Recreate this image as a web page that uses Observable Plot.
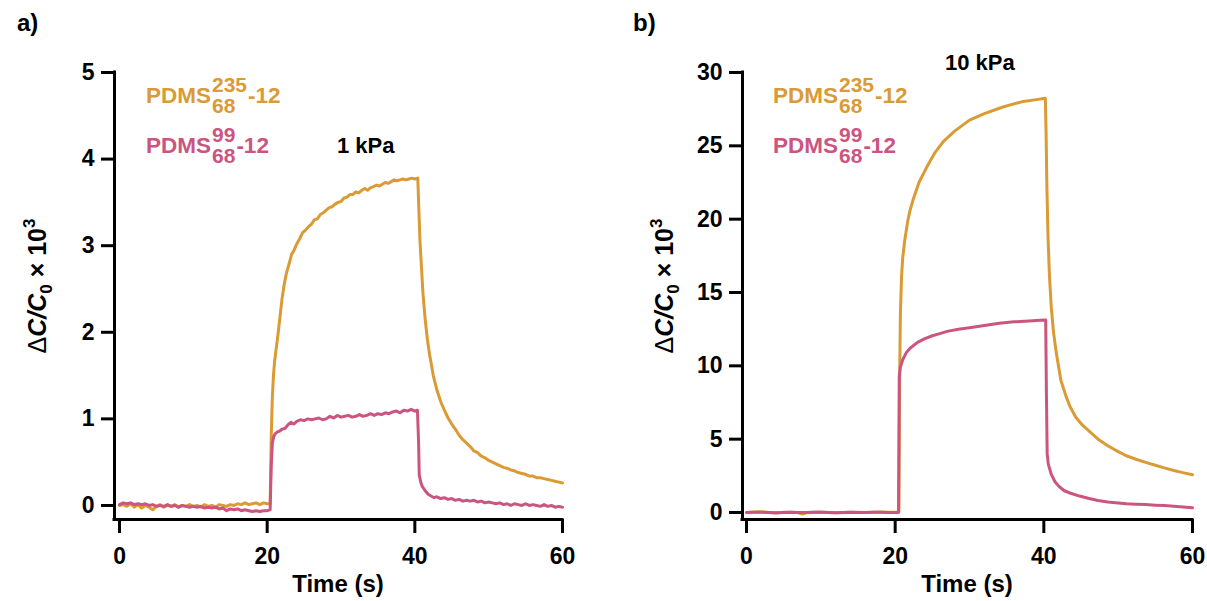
<!DOCTYPE html>
<html><head><meta charset="utf-8">
<script src="https://cdn.jsdelivr.net/npm/d3@7"></script>
<script src="https://cdn.jsdelivr.net/npm/@observablehq/plot@0.6"></script>
<style>
body{margin:0;background:#fff;}
#wrap{position:relative;width:1207px;height:601px;overflow:hidden;background:#fff;}
#wrap svg{position:absolute;top:0;}
</style></head><body><div id="wrap"></div>
<script>
const ORANGE = "#DA9A34", PINK = "#CC5580";
const FONT = "'Liberation Sans', Arial, sans-serif";

const xTicks = [0, 20, 40, 60];
const yTicks1kPa = [0, 1, 2, 3, 4, 5];
const yTicks10kPa = [0, 5, 10, 15, 20, 25, 30];
const seriesNames = [["235", "68"], ["99", "68"]];
const panelTags = ["a)", "b)"];
const pressureLabels = ["1 kPa", "10 kPa"];

// [time (s), ΔC/C0 ×10^3]
const orange1kPa = [[0,0.00],[0.5,0.01],[1,-0.01],[1.5,0.02],[2,-0.02],[2.5,0.01],[3,-0.03],[3.5,0.00],[4,-0.02],[4.5,-0.05],[5,-0.01],[5.5,0.01],[6,-0.02],[6.5,0.00],[7,-0.01],[7.5,0.01],[8,-0.02],[8.5,0.00],[9,-0.01],[9.5,0.01],[10,-0.01],[10.5,0.00],[11,-0.02],[11.5,0.01],[12,-0.01],[12.5,0.00],[13,-0.02],[13.5,0.01],[14,0.00],[14.5,-0.01],[15,0.01],[15.5,0.00],[16,0.02],[16.5,0.01],[17,0.03],[17.5,0.01],[18,0.02],[18.5,0.03],[19,0.01],[19.5,0.03],[20,0.02],[20.4,0.02],
[20.55,0.8],[20.7,1.25],[20.85,1.5],[21.0,1.66],[21.2,1.8],[21.4,1.93],[21.7,2.15],[22.0,2.38],[22.3,2.55],[22.6,2.68],[23.0,2.8],[23.3,2.9],[23.6,2.94],[24.0,3.02],[24.4,3.08],[24.8,3.15],[25.2,3.18],[25.6,3.22],[26.0,3.25],[26.4,3.30],[26.8,3.31],[27.2,3.36],[27.6,3.38],[28.0,3.41],[28.4,3.44],[28.8,3.45],[29.2,3.48],[29.6,3.50],[30.0,3.51],[30.4,3.55],[30.8,3.56],[31.2,3.59],[31.6,3.59],[32.0,3.62],[32.4,3.61],[32.8,3.64],[33.2,3.66],[33.6,3.64],[34.0,3.67],[34.4,3.68],[34.8,3.70],[35.2,3.69],[35.6,3.71],[36.0,3.73],[36.4,3.72],[36.8,3.74],[37.2,3.76],[37.6,3.75],[38.0,3.76],[38.4,3.77],[38.8,3.76],[39.2,3.77],[39.6,3.78],[40.0,3.77],[40.4,3.78],
[40.55,3.4],[40.7,3.05],[40.9,2.75],[41.1,2.45],[41.4,2.15],[41.7,1.92],[42.0,1.74],[42.5,1.50],[43.0,1.33],[43.5,1.20],[44.0,1.10],[44.5,1.01],[45.0,0.94],[45.5,0.88],[46.0,0.81],[46.5,0.76],[47.0,0.72],[47.5,0.68],[48.0,0.63],[48.5,0.61],[49.0,0.57],[49.5,0.55],[50.0,0.52],[50.5,0.50],[51.0,0.48],[51.5,0.46],[52.0,0.44],[52.5,0.43],[53.0,0.41],[53.5,0.40],[54.0,0.38],[54.5,0.37],[55.0,0.36],[55.5,0.34],[56.0,0.34],[56.5,0.32],[57.0,0.32],[57.5,0.31],[58.0,0.30],[58.5,0.29],[59.0,0.28],[59.5,0.27],[60.0,0.26]];

const pink1kPa = [[0,0.01],[0.5,0.03],[1,0.02],[1.5,0.03],[2,0.01],[2.5,0.02],[3,0.01],[3.5,0.02],[4,0.00],[4.5,0.01],[5,-0.01],[5.5,0.00],[6,-0.01],[6.5,0.01],[7,-0.01],[7.5,0.00],[8,-0.02],[8.5,0.00],[9,-0.01],[9.5,-0.02],[10,-0.01],[10.5,-0.02],[11,-0.01],[11.5,-0.03],[12,-0.02],[12.5,-0.03],[13,-0.02],[13.5,-0.04],[14,-0.03],[14.5,-0.06],[15,-0.04],[15.5,-0.05],[16,-0.04],[16.5,-0.06],[17,-0.05],[17.5,-0.06],[18,-0.07],[18.5,-0.06],[19,-0.07],[19.5,-0.06],[20,-0.06],[20.4,-0.05],
[20.55,0.45],[20.7,0.72],[20.9,0.80],[21.1,0.83],[21.4,0.85],[21.7,0.86],[22.0,0.88],[22.4,0.89],[22.8,0.93],[23.2,0.96],[23.6,0.94],[24.0,0.97],[24.5,0.99],[25.0,0.98],[25.5,1.00],[26.0,0.99],[26.5,1.00],[27.0,1.01],[27.5,0.99],[28.0,1.00],[28.5,1.03],[29.0,1.01],[29.5,1.04],[30.0,1.02],[30.5,1.03],[31.0,1.04],[31.5,1.02],[32.0,1.03],[32.5,1.05],[33.0,1.03],[33.5,1.04],[34.0,1.06],[34.5,1.04],[35.0,1.06],[35.5,1.05],[36.0,1.07],[36.5,1.06],[37.0,1.08],[37.5,1.09],[38.0,1.07],[38.5,1.10],[39.0,1.09],[39.5,1.11],[40.0,1.09],[40.35,1.10],
[40.5,0.75],[40.6,0.35],[40.8,0.27],[41.0,0.22],[41.4,0.17],[41.8,0.13],[42.2,0.11],[42.6,0.09],[43.0,0.10],[43.5,0.08],[44.0,0.09],[44.5,0.07],[45.0,0.08],[45.5,0.06],[46.0,0.07],[46.5,0.05],[47.0,0.06],[47.5,0.05],[48.0,0.06],[48.5,0.04],[49.0,0.05],[49.5,0.03],[50.0,0.04],[50.5,0.03],[51.0,0.02],[51.5,0.03],[52.0,0.01],[52.5,0.02],[53.0,0.00],[53.5,0.02],[54.0,0.01],[54.5,0.00],[55.0,0.02],[55.5,0.00],[56.0,0.01],[56.5,0.00],[57.0,-0.01],[57.5,0.01],[58.0,-0.01],[58.5,0.00],[59.0,-0.02],[59.5,-0.01],[60.0,-0.02]];

const orange10kPa = [[0,0.0],[1,0.03],[2,0.05],[3,0.0],[4,-0.03],[5,0.01],[6,0.02],[7,-0.02],[7.5,-0.1],[8,-0.02],[9,0.01],[10,0.03],[11,0.0],[12,-0.02],[13,0.0],[14,0.02],[15,0.01],[16,0.0],[17,0.02],[18,0.03],[19,0.01],[20,0.02],[20.5,0.03],
[20.6,9.0],[20.7,13.5],[20.85,16.0],[21.0,17.3],[21.3,18.6],[21.7,19.9],[22.0,20.6],[22.4,21.3],[23.2,22.5],[24.2,23.5],[25.3,24.5],[26.5,25.3],[28.0,26.0],[30.0,26.75],[32.0,27.2],[34.5,27.65],[37.0,28.0],[39.0,28.15],[40.2,28.25],
[40.3,26.0],[40.4,22.5],[40.55,19.0],[40.75,16.2],[41.0,14.0],[41.3,12.3],[41.7,10.8],[42.3,9.0],[43.0,7.9],[43.5,7.25],[44.3,6.5],[45.2,5.95],[46.1,5.55],[47.3,5.0],[48.6,4.55],[50.0,4.15],[51.1,3.87],[52.4,3.63],[53.7,3.42],[55.0,3.22],[56.2,3.04],[57.5,2.86],[58.7,2.72],[60.0,2.58]];

const pink10kPa = [[0,0.0],[1,0.01],[2,0.02],[3,0.0],[4,-0.02],[5,0.0],[6,0.01],[7,0.0],[8,0.0],[9,0.01],[10,0.02],[11,0.0],[12,-0.01],[13,0.0],[14,0.01],[15,0.0],[16,0.0],[17,0.01],[18,0.01],[19,0.0],[20,0.0],[20.45,0.0],
[20.55,9.3],[20.7,9.9],[21.0,10.4],[21.5,10.9],[22.0,11.2],[23.0,11.6],[24.0,11.85],[25.0,12.05],[26.0,12.2],[27.0,12.35],[28.5,12.5],[30.0,12.6],[32.0,12.75],[34.0,12.9],[36.0,13.0],[38.0,13.05],[39.5,13.1],[40.25,13.12],
[40.35,8.0],[40.45,4.0],[40.6,3.3],[41.0,2.6],[41.5,2.1],[42.0,1.8],[42.7,1.5],[43.5,1.33],[44.8,1.12],[46.1,0.95],[47.3,0.82],[48.6,0.72],[50.0,0.65],[51.1,0.6],[52.4,0.57],[53.7,0.54],[55.0,0.5],[56.2,0.47],[57.5,0.42],[58.7,0.37],[60.0,0.32]];

const rows = arr => arr.map(([t, v]) => ({t, v}));

function addText(svg, x, y, str, opts = {}) {
  return svg.append("text").attr("x", x).attr("y", y)
    .attr("font-family", FONT).attr("font-weight", opts.weight || "bold")
    .attr("font-size", opts.size || 22).attr("fill", opts.fill || "#000")
    .attr("text-anchor", opts.anchor || "start").text(str);
}

function legendEntry(svg, x, y, color, sup, sub) {
  const t1 = addText(svg, x, y, "PDMS", {fill: color, size: 22.5});
  const xs = x + t1.node().getComputedTextLength() + 1;
  const s1 = addText(svg, xs, y - 11, sup, {fill: color, size: 21});
  const s2 = addText(svg, xs, y + 10, sub, {fill: color, size: 21});
  const w = Math.max(s1.node().getComputedTextLength(), s2.node().getComputedTextLength());
  addText(svg, xs + w + 1, y, "-12", {fill: color, size: 22.5});
}

function yLabel(svg, x, y) {
  const t = svg.append("text").attr("transform", `translate(${x},${y}) rotate(-90)`)
    .attr("text-anchor", "middle").attr("font-family", FONT).attr("font-size", 25)
    .attr("font-weight", "bold").attr("fill", "#000");
  t.append("tspan").attr("font-weight", "normal").text("Δ");
  t.append("tspan").attr("font-style", "italic").text("C/C");
  t.append("tspan").attr("font-size", 17).attr("dy", 6).text("0");
  t.append("tspan").attr("dy", -6).text(" × 10");
  t.append("tspan").attr("font-size", 17).attr("dy", -11).text("3");
}

function makePanel(cfg) {
  const [x0, x1] = cfg.xDomain, [y0, y1] = cfg.yDomain;
  const plot = Plot.plot({
    width: cfg.width, height: 601,
    marginLeft: cfg.marginLeft, marginRight: cfg.marginRight, marginTop: 72, marginBottom: 82,
    x: {domain: cfg.xDomain, label: null},
    y: {domain: cfg.yDomain, label: null},
    style: {fontFamily: FONT, fontWeight: "bold", color: "#000", background: "transparent", overflow: "visible"},
    marks: [
      Plot.axisX({ticks: xTicks, tickSize: 14, tickPadding: 14, fontSize: 23, fontWeight: "bold", strokeWidth: 3, label: null, tickFormat: d => d}),
      Plot.axisY({ticks: cfg.yTicks, tickSize: 13, tickPadding: 7, fontSize: 23, fontWeight: "bold", strokeWidth: 3, label: null, tickFormat: d => d}),
      Plot.ruleX([x0], {y1: y0, y2: y1, stroke: "#000", strokeWidth: 3, strokeLinecap: "square"}),
      Plot.ruleY([y0], {x1: x0, x2: x1, stroke: "#000", strokeWidth: 3, strokeLinecap: "square"}),
      Plot.line(rows(cfg.orange), {x: "t", y: "v", stroke: ORANGE, strokeWidth: 3, curve: "linear"}),
      Plot.line(rows(cfg.pink), {x: "t", y: "v", stroke: PINK, strokeWidth: 3, curve: "linear"})
    ]
  });
  plot.style.left = cfg.left + "px";
  document.getElementById("wrap").appendChild(plot);
  const svg = d3.select(plot);
  addText(svg, cfg.tagX, 31, cfg.tag, {size: 24});
  addText(svg, (cfg.marginLeft + cfg.width - cfg.marginRight) / 2, 592, "Time (s)", {size: 24, anchor: "middle"});
  yLabel(svg, cfg.yLabelX, 286);
  legendEntry(svg, cfg.legendX, 103, ORANGE, seriesNames[0][0], seriesNames[0][1]);
  legendEntry(svg, cfg.legendX, 153, PINK, seriesNames[1][0], seriesNames[1][1]);
  addText(svg, cfg.pressX, cfg.pressY, cfg.pressure, {size: 22});
}

makePanel({left: 0, width: 600, marginLeft: 114, marginRight: 38, xDomain: [-0.68, 60], yDomain: [-0.162, 5],
  yTicks: yTicks1kPa, orange: orange1kPa, pink: pink1kPa, tag: panelTags[0], tagX: 17, yLabelX: 46,
  legendX: 146, pressure: pressureLabels[0], pressX: 337, pressY: 153});
makePanel({left: 600, width: 607, marginLeft: 142, marginRight: 15, xDomain: [-0.54, 60], yDomain: [-0.477, 30],
  yTicks: yTicks10kPa, orange: orange10kPa, pink: pink10kPa, tag: panelTags[1], tagX: 33, yLabelX: 73,
  legendX: 173, pressure: pressureLabels[1], pressX: 345, pressY: 70});
</script></body></html>
